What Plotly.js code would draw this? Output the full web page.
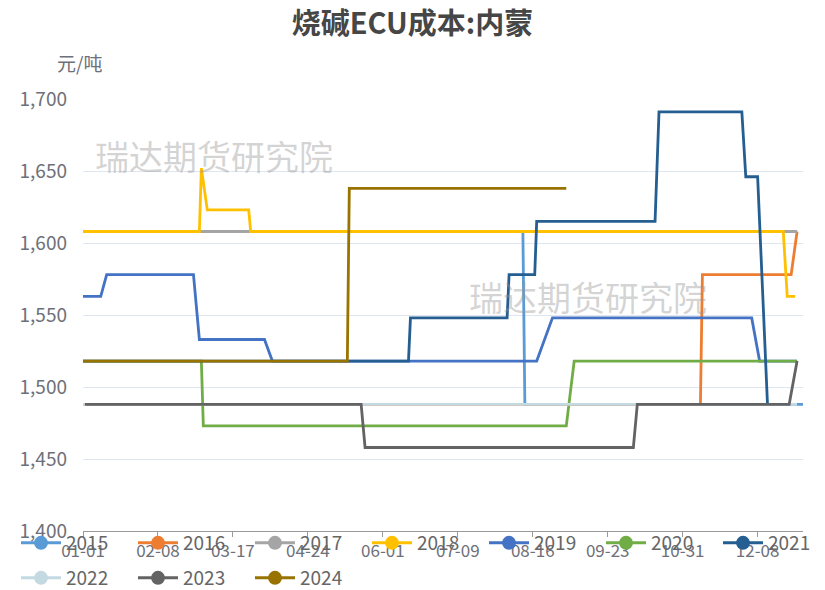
<!DOCTYPE html>
<html>
<head>
<meta charset="utf-8">
<script src="https://cdn.plot.ly/plotly-3.0.1.min.js"></script>
<style>
html,body{margin:0;padding:0;background:#fff;}
#chart{width:825px;height:590px;}
</style>
</head>
<body>
<div id="chart"></div>
<script>
// ---- data (MM-DD dates on a leap-year calendar, values in 元/吨) ----
const seriesNames = ['2015','2016','2017','2018','2019','2020','2021','2022','2023','2024'];
const seriesColors = ['#5B9BD5','#ED7D31','#A5A5A5','#FFC000','#4472C4','#70AD47','#255E91','#C4DAE3','#636363','#997300'];

const dates2015 = ['01-01','08-11','08-12','12-31'];
const vals2015  = [1608, 1608, 1488, 1488];

const dates2016 = ['01-01','11-09','11-10','12-25','12-28'];
const vals2016  = [1488, 1488, 1578, 1578, 1608];

const dates2017 = ['01-01','12-28'];
const vals2017  = [1608, 1608];

const dates2018 = ['01-01','02-29','03-01','03-04','03-25','03-26','12-21','12-23','12-27'];
const vals2018  = [1608, 1608, 1652, 1623, 1623, 1608, 1608, 1563, 1563];

const dates2019 = ['01-01','01-10','01-13','02-26','02-29','04-02','04-06','08-18','08-26','12-05','12-09','12-28'];
const vals2019  = [1563, 1563, 1578, 1578, 1533, 1533, 1518, 1518, 1548, 1548, 1518, 1518];

const dates2020 = ['01-01','03-01','03-02','09-02','09-06','12-28'];
const vals2020  = [1518, 1518, 1473, 1473, 1518, 1518];

const dates2021 = ['01-01','06-14','06-15','08-03','08-04','08-17','08-18','10-17','10-19','11-30','12-02','12-08','12-13'];
const vals2021  = [1518, 1518, 1548, 1548, 1578, 1578, 1615, 1615, 1691, 1691, 1646, 1646, 1488];

const dates2022 = ['01-01','12-28'];
const vals2022  = [1488, 1488];

const dates2023 = ['01-02','05-21','05-23','10-06','10-08','12-24','12-28'];
const vals2023  = [1488, 1488, 1458, 1458, 1488, 1488, 1518];

const dates2024 = ['01-01','05-14','05-15','09-02'];
const vals2024  = [1518, 1518, 1638, 1638];

const xTickLabels = ['01-01','02-08','03-17','04-24','06-01','07-09','08-16','09-23','10-31','12-08'];
const yTickVals = [1400, 1450, 1500, 1550, 1600, 1650, 1700];

// ---- build ----
const allDates = [dates2015,dates2016,dates2017,dates2018,dates2019,dates2020,dates2021,dates2022,dates2023,dates2024];
const allVals  = [vals2015,vals2016,vals2017,vals2018,vals2019,vals2020,vals2021,vals2022,vals2023,vals2024];
const YEAR = '2024-';
const toDate = d => YEAR + d;

const traces = [];
seriesNames.forEach((name, i) => {
  traces.push({
    type: 'scatter', mode: 'lines', name: name,
    x: allDates[i].map(toDate), y: allVals[i],
    line: {color: seriesColors[i], width: 2.8},
    showlegend: false, hoverinfo: 'skip'
  });
});
// legend-only entries (line + circle icon); row 1: 2015-2021, row 2: 2022-2024
const legendOf = i => (i < 6 ? 'legend' : (i === 6 ? 'legend3' : 'legend2'));
seriesNames.forEach((name, i) => {
  traces.push({
    type: 'scatter', mode: 'lines+markers', name: name,
    x: [null], y: [null],
    line: {color: seriesColors[i], width: 3},
    marker: {color: seriesColors[i], size: 14},
    legend: legendOf(i),
    showlegend: true
  });
});

const FONT = '"Noto Sans CJK SC", "Noto Sans", sans-serif';
const legendCommon = {
  orientation: 'h', xref: 'container', yref: 'container',
  x: 16/825, xanchor: 'left', yanchor: 'middle',
  entrywidth: 62, entrywidthmode: 'pixels', itemwidth: 40,
  font: {family: FONT, size: 19, color: '#666'},
  bgcolor: 'rgba(0,0,0,0)', itemclick: false, itemdoubleclick: false
};

const layout = {
  width: 825, height: 590,
  margin: {l: 83, r: 22, t: 99, b: 59, autoexpand: false},
  paper_bgcolor: '#fff', plot_bgcolor: '#fff',
  font: {family: FONT, color: '#6E7079'},
  title: {
    text: '<b>烧碱ECU成本:内蒙</b>',
    font: {family: FONT, size: 29, color: '#464646'},
    x: 0.5, xanchor: 'center', xref: 'container', y: 1 - 24/590, yanchor: 'middle', yref: 'container'
  },
  xaxis: {
    type: 'date',
    range: [toDate('01-01'), toDate('12-31')],
    tickvals: xTickLabels.map(toDate),
    ticktext: xTickLabels,
    ticks: 'outside', ticklen: 5, tickcolor: '#9a9a9a',
    showline: true, linecolor: '#9a9a9a', linewidth: 1,
    showgrid: false, zeroline: false,
    tickfont: {family: FONT, size: 17, color: '#6E7079'},
    fixedrange: true
  },
  yaxis: {
    range: [1400, 1700],
    tickvals: yTickVals,
    tickformat: ',',
    showgrid: true, gridcolor: '#E0E6F1', gridwidth: 1,
    zeroline: false, showline: false, ticks: '',
    tickfont: {family: FONT, size: 19, color: '#6E7079'},
    ticklabelstandoff: 15,
    fixedrange: true
  },
  legend: Object.assign({}, legendCommon, {y: 1 - 543/590}),
  legend3: Object.assign({}, legendCommon, {x: (16 + 6*117)/825, y: 1 - 543/590}),
  legend2: Object.assign({}, legendCommon, {y: 1 - 578/590}),
  annotations: [
    {text: '元/吨', xref: 'paper', yref: 'paper', x: (79-83)/720, y: (531-62)/432,
     xanchor: 'center', yanchor: 'middle', showarrow: false,
     font: {family: FONT, size: 19, color: '#6E7079'}},
    {text: '瑞达期货研究院', xref: 'paper', yref: 'paper', x: (214-83)/720, y: (531-155)/432,
     xanchor: 'center', yanchor: 'middle', showarrow: false,
     font: {family: FONT, size: 34, color: 'rgba(150,150,150,0.42)'}},
    {text: '瑞达期货研究院', xref: 'paper', yref: 'paper', x: (588-83)/720, y: (531-296)/432,
     xanchor: 'center', yanchor: 'middle', showarrow: false,
     font: {family: FONT, size: 34, color: 'rgba(150,150,150,0.42)'}}
  ],
  hovermode: false
};

Plotly.newPlot('chart', traces, layout, {displayModeBar: false, staticPlot: true});
</script>
</body>
</html>
